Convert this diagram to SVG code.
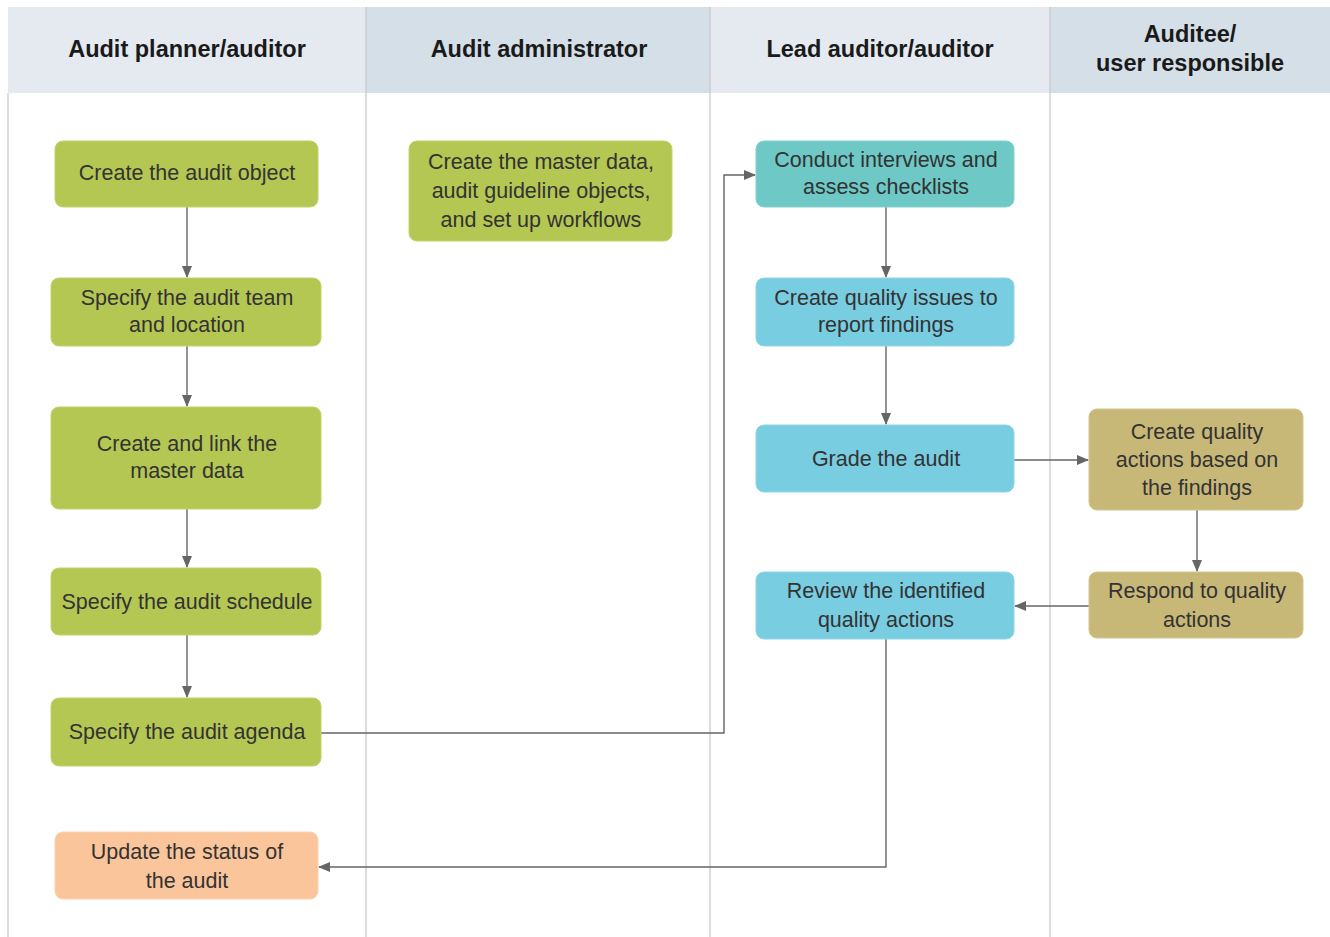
<svg xmlns="http://www.w3.org/2000/svg" width="1330" height="937" viewBox="0 0 1330 937">
<defs>
<style>
.hdrA{fill:#e5e9f0}
.hdrB{fill:#d5dfe8}
.lane{stroke:#c9c9c9;stroke-width:1.3;fill:none}
.ht{font-family:"Liberation Sans",Arial,sans-serif;font-weight:bold;font-size:23.5px;fill:#1a1a1a;text-anchor:middle}
.nt{font-family:"Liberation Sans",Arial,sans-serif;font-size:21.5px;fill:#333;text-anchor:middle}
.g{fill:#b5c753;stroke:#c2d26a;stroke-width:1}
.o{fill:#fbc59b;stroke:#fcd2b0;stroke-width:1}
.t{fill:#6dc8c6;stroke:#85d2d0;stroke-width:1}
.b{fill:#78cde1;stroke:#8fd6e6;stroke-width:1}
.k{fill:#c8b878;stroke:#d3c58e;stroke-width:1}
.c{stroke:#666;stroke-width:1.4;fill:none;marker-end:url(#ah)}
</style>
<marker id="ah" markerWidth="12" markerHeight="10" refX="11" refY="5" orient="auto" markerUnits="userSpaceOnUse">
<path d="M0,0 L12,5 L0,10 Z" fill="#666"/>
</marker>
</defs>
<rect width="1330" height="937" fill="#fff"/>
<g id="lanes">
<rect class="hdrA" x="8" y="7" width="358" height="86"/>
<rect class="hdrB" x="366" y="7" width="344" height="86"/>
<rect class="hdrA" x="710" y="7" width="340" height="86"/>
<rect class="hdrB" x="1050" y="7" width="280" height="86"/>
<line class="lane" x1="8" y1="93" x2="8" y2="937"/>
<line class="lane" x1="366" y1="7" x2="366" y2="937"/>
<line class="lane" x1="710" y1="7" x2="710" y2="937"/>
<line class="lane" x1="1050" y1="7" x2="1050" y2="937"/>
<text class="ht" x="187" y="57">Audit planner/auditor</text>
<text class="ht" x="539" y="57">Audit administrator</text>
<text class="ht" x="880" y="57">Lead auditor/auditor</text>
<text class="ht" x="1190" y="42">Auditee/</text>
<text class="ht" x="1190" y="71">user responsible</text>
</g>
<g id="connectors">
<line class="c" x1="187" y1="207" x2="187" y2="277"/>
<line class="c" x1="187" y1="346" x2="187" y2="406"/>
<line class="c" x1="187" y1="509" x2="187" y2="567"/>
<line class="c" x1="187" y1="635" x2="187" y2="697"/>
<polyline class="c" points="321,733 724,733 724,175 755,175"/>
<line class="c" x1="886" y1="207" x2="886" y2="277"/>
<line class="c" x1="886" y1="346" x2="886" y2="424"/>
<line class="c" x1="1014" y1="460" x2="1088" y2="460"/>
<line class="c" x1="1197" y1="510" x2="1197" y2="571"/>
<line class="c" x1="1089" y1="606" x2="1015" y2="606"/>
<polyline class="c" points="886,639 886,867 319,867"/>
</g>
<g id="n1"><rect class="g" x="55" y="141" width="263" height="66" rx="8"/><text class="nt" x="187" y="180">Create the audit object</text></g>
<g id="n2"><rect class="g" x="51" y="278" width="270" height="68" rx="8"/><text class="nt" x="187" y="305">Specify the audit team</text><text class="nt" x="187" y="332">and location</text></g>
<g id="n3"><rect class="g" x="51" y="407" width="270" height="102" rx="8"/><text class="nt" x="187" y="451">Create and link the</text><text class="nt" x="187" y="478">master data</text></g>
<g id="n4"><rect class="g" x="51" y="568" width="270" height="67" rx="8"/><text class="nt" x="187" y="609">Specify the audit schedule</text></g>
<g id="n5"><rect class="g" x="51" y="698" width="270" height="68" rx="8"/><text class="nt" x="187" y="739">Specify the audit agenda</text></g>
<g id="n6"><rect class="o" x="55" y="832" width="263" height="67" rx="8"/><text class="nt" x="187" y="859">Update the status of</text><text class="nt" x="187" y="888">the audit</text></g>
<g id="n7"><rect class="g" x="409" y="141" width="263" height="100" rx="8"/><text class="nt" x="541" y="169">Create the master data,</text><text class="nt" x="541" y="198">audit guideline objects,</text><text class="nt" x="541" y="227">and set up workflows</text></g>
<g id="n8"><rect class="t" x="756" y="141" width="258" height="66" rx="8"/><text class="nt" x="886" y="167">Conduct interviews and</text><text class="nt" x="886" y="194">assess checklists</text></g>
<g id="n9"><rect class="b" x="756" y="278" width="258" height="68" rx="8"/><text class="nt" x="886" y="305">Create quality issues to</text><text class="nt" x="886" y="332">report findings</text></g>
<g id="n10"><rect class="b" x="756" y="425" width="258" height="67" rx="8"/><text class="nt" x="886" y="466">Grade the audit</text></g>
<g id="n11"><rect class="b" x="756" y="572" width="258" height="67" rx="8"/><text class="nt" x="886" y="598">Review the identified</text><text class="nt" x="886" y="627">quality actions</text></g>
<g id="n12"><rect class="k" x="1089" y="409" width="214" height="101" rx="8"/><text class="nt" x="1197" y="439">Create quality</text><text class="nt" x="1197" y="467">actions based on</text><text class="nt" x="1197" y="495">the findings</text></g>
<g id="n13"><rect class="k" x="1089" y="572" width="214" height="66" rx="8"/><text class="nt" x="1197" y="598">Respond to quality</text><text class="nt" x="1197" y="627">actions</text></g>
</svg>
